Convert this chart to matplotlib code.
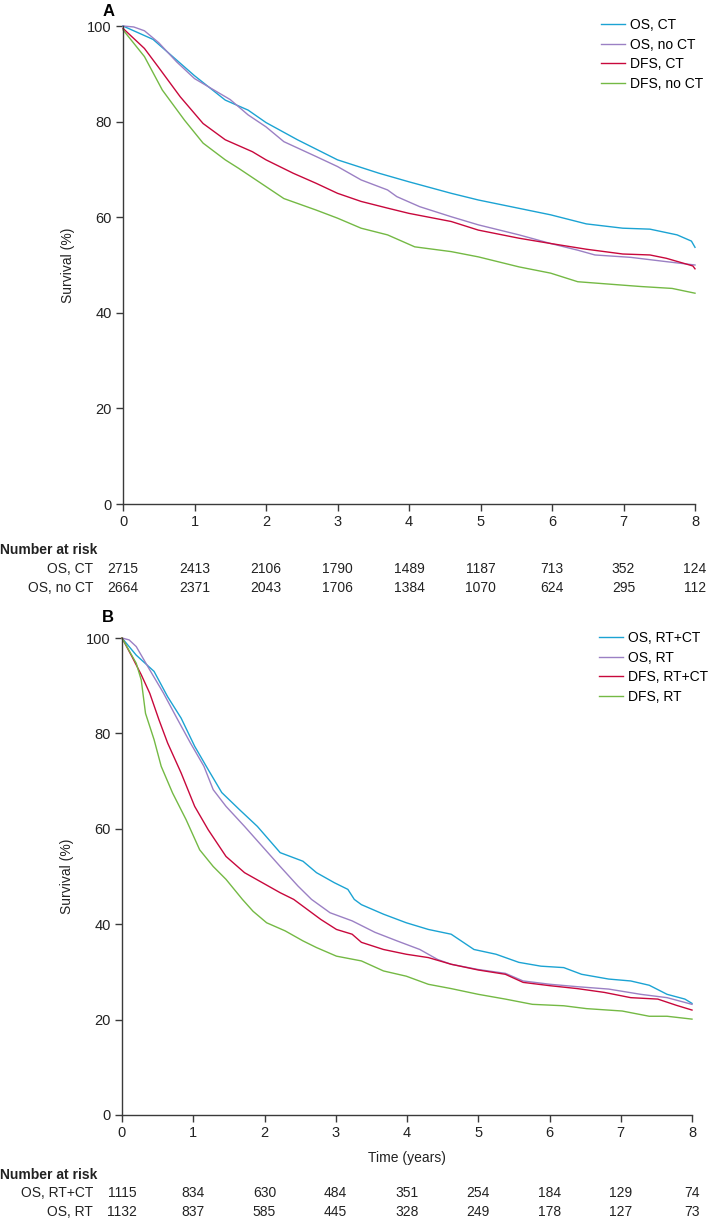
import matplotlib
matplotlib.use('Agg')
import matplotlib.pyplot as plt
import matplotlib.transforms as mtransforms

plt.rcParams['font.family'] = ['Liberation Sans', 'DejaVu Sans']
plt.rcParams['font.size'] = 10

# ---- panel A data ----
tA_os_ct = [0, 0.42, 1.0, 1.43, 1.75, 2.0, 2.44, 3.0, 3.58, 4.0, 4.59, 4.97, 5.98, 6.48, 6.99, 7.37, 7.75, 7.95, 8.0]
sA_os_ct = [100, 97.2, 89.6, 84.5, 82.4, 79.8, 76.2, 72.0, 69.2, 67.4, 65.0, 63.6, 60.5, 58.6, 57.7, 57.5, 56.3, 55.0, 53.7]

tA_os_noct = [0, 0.15, 0.3, 0.5, 0.75, 1.0, 1.5, 1.75, 2.0, 2.25, 2.7, 3.0, 3.33, 3.7, 3.83, 4.15, 4.59, 4.97, 5.54, 5.98, 6.36, 6.6, 7.1, 7.6, 8.0]
sA_os_noct = [100, 99.8, 99.0, 96.5, 92.5, 89.0, 84.6, 81.4, 78.9, 75.8, 72.7, 70.6, 67.8, 65.7, 64.3, 62.2, 60.1, 58.4, 56.3, 54.5, 53.1, 52.1, 51.6, 50.7, 50.0]

tA_dfs_ct = [0, 0.3, 0.49, 0.8, 1.12, 1.43, 1.81, 2.0, 2.38, 2.7, 3.0, 3.33, 3.7, 4.0, 4.59, 4.97, 5.54, 5.98, 6.48, 6.99, 7.37, 7.6, 7.97, 8.0]
sA_dfs_ct = [99.5, 95.3, 91.5, 85.2, 79.6, 76.2, 73.7, 72.0, 69.2, 67.1, 65.0, 63.3, 61.9, 60.8, 59.1, 57.3, 55.6, 54.5, 53.3, 52.3, 52.1, 51.4, 49.8, 49.2]

tA_dfs_noct = [0, 0.3, 0.55, 0.86, 1.12, 1.43, 1.62, 2.0, 2.25, 2.7, 3.0, 3.33, 3.7, 4.08, 4.59, 4.97, 5.54, 5.98, 6.36, 6.8, 7.24, 7.68, 8.0]
sA_dfs_noct = [99.2, 93.6, 86.6, 80.3, 75.5, 72.0, 70.2, 66.4, 63.9, 61.5, 59.8, 57.7, 56.3, 53.8, 52.8, 51.7, 49.6, 48.3, 46.5, 46.0, 45.5, 45.1, 44.1]

# ---- panel B data ----
tB_os_rtct = [0, 0.2, 0.45, 0.64, 0.83, 1.02, 1.21, 1.4, 1.65, 1.9, 2.22, 2.54, 2.73, 2.98, 3.17, 3.26, 3.36, 3.67, 3.99, 4.3, 4.62, 4.94, 5.25, 5.57, 5.88, 6.2, 6.45, 6.83, 7.14, 7.4, 7.65, 7.9, 8.0]
sB_os_rtct = [100, 96.4, 93.0, 87.7, 83.2, 77.3, 72.4, 67.6, 64.0, 60.5, 55.0, 53.2, 50.8, 48.7, 47.3, 45.2, 44.1, 42.1, 40.3, 38.9, 37.9, 34.7, 33.7, 32.0, 31.2, 30.9, 29.5, 28.5, 28.1, 27.2, 25.3, 24.3, 23.4]

tB_os_rt = [0, 0.1, 0.2, 0.39, 0.58, 0.77, 0.96, 1.15, 1.28, 1.46, 1.72, 1.97, 2.22, 2.47, 2.66, 2.92, 3.23, 3.55, 3.86, 4.18, 4.43, 4.62, 5.0, 5.38, 5.63, 6.01, 6.39, 6.83, 7.28, 7.65, 8.0]
sB_os_rt = [100, 99.6, 98.2, 93.3, 88.5, 83.2, 78.0, 73.1, 68.2, 64.7, 60.5, 56.3, 52.1, 48.0, 45.2, 42.4, 40.7, 38.3, 36.5, 34.7, 32.6, 31.6, 30.5, 29.7, 28.1, 27.4, 26.9, 26.4, 25.3, 24.6, 23.2]

tB_dfs_rtct = [0, 0.14, 0.27, 0.39, 0.52, 0.64, 0.83, 1.02, 1.21, 1.46, 1.72, 1.97, 2.22, 2.41, 2.6, 2.79, 3.01, 3.23, 3.36, 3.67, 3.99, 4.3, 4.62, 5.0, 5.38, 5.63, 6.01, 6.39, 6.77, 7.14, 7.52, 7.78, 8.0]
sB_dfs_rtct = [100, 96.1, 92.3, 88.4, 82.8, 78.0, 71.7, 64.7, 59.8, 54.2, 50.8, 48.7, 46.6, 45.2, 43.1, 41.0, 38.9, 37.9, 36.2, 34.7, 33.7, 33.0, 31.6, 30.4, 29.5, 27.8, 27.1, 26.5, 25.7, 24.6, 24.3, 23.0, 22.0]

tB_dfs_rt = [0, 0.2, 0.27, 0.33, 0.45, 0.55, 0.71, 0.9, 1.09, 1.28, 1.46, 1.69, 1.84, 2.03, 2.29, 2.54, 2.73, 3.01, 3.36, 3.67, 3.99, 4.3, 4.62, 5.0, 5.38, 5.76, 6.2, 6.52, 7.02, 7.4, 7.65, 8.0]
sB_dfs_rt = [100, 94.7, 91.2, 84.2, 78.7, 73.1, 67.5, 61.9, 55.6, 52.1, 49.4, 45.2, 42.7, 40.3, 38.6, 36.5, 35.1, 33.3, 32.3, 30.2, 29.1, 27.4, 26.5, 25.3, 24.3, 23.2, 22.9, 22.3, 21.8, 20.7, 20.7, 20.1]

risk_times = [0, 1, 2, 3, 4, 5, 6, 7, 8]
riskA_labels = ['OS, CT', 'OS, no CT']
riskA = [[2715, 2413, 2106, 1790, 1489, 1187, 713, 352, 124],
         [2664, 2371, 2043, 1706, 1384, 1070, 624, 295, 112]]
riskB_labels = ['OS, RT+CT', 'OS, RT']
riskB = [[1115, 834, 630, 484, 351, 254, 184, 129, 74],
         [1132, 837, 585, 445, 328, 249, 178, 127, 73]]

labelsA = ['OS, CT', 'OS, no CT', 'DFS, CT', 'DFS, no CT']
labelsB = ['OS, RT+CT', 'OS, RT', 'DFS, RT+CT', 'DFS, RT']
colors = ['#1ba3d3', '#9b80c4', '#c8083c', '#74b944']

W, H = 708, 1219
FS = 10
fig = plt.figure(figsize=(W / 100, H / 100), dpi=100)

def fy(py):
    # pixel row from top -> figure fraction
    return 1 - py / H

def setupAxes(ax):
    ax.set_xlim(0, 8)
    ax.set_ylim(0, 100)
    ax.set_xticks(risk_times)
    ax.set_yticks([0, 20, 40, 60, 80, 100])
    for s in ['top', 'right']:
        ax.spines[s].set_visible(False)
    for s in ['left', 'bottom']:
        ax.spines[s].set_color('#3a3a3a')
        ax.spines[s].set_linewidth(1.0)
    ax.tick_params(direction='out', length=5, width=1.0, color='#3a3a3a',
                   labelsize=10.5, labelcolor='#222222', pad=3)
    ax.set_ylabel('Survival (%)', fontsize=FS, color='#222222', labelpad=9)

def riskTable(ax, labels, rows, ys, title_y):
    tr = mtransforms.blended_transform_factory(ax.transData, fig.transFigure)
    fig.text(0.0, fy(title_y), 'Number at risk', fontsize=FS, fontweight='bold',
             va='center', ha='left', color='#222222')
    for lab, row, py in zip(labels, rows, ys):
        fig.text(93 / W, fy(py), lab, fontsize=FS, va='center', ha='right', color='#222222')
        for t, n in zip(risk_times, row):
            ax.text(t, fy(py), str(n), transform=tr, fontsize=FS, va='center',
                    ha='center', color='#222222', clip_on=False)

# panel A
axA = fig.add_axes([123 / W, fy(504), (695 - 123) / W, (504 - 26) / H])
setupAxes(axA)
for t, s, c, lab in zip([tA_os_ct, tA_os_noct, tA_dfs_ct, tA_dfs_noct],
                        [sA_os_ct, sA_os_noct, sA_dfs_ct, sA_dfs_noct], colors, labelsA):
    axA.plot(t, s, color=c, lw=1.0, label=lab, clip_on=False)
axA.legend(loc='upper left', bbox_to_anchor=(601 / W, fy(18)), bbox_transform=fig.transFigure,
           frameon=False, fontsize=FS, handlelength=1.7, handletextpad=0.4,
           labelspacing=0.4, borderpad=0, borderaxespad=0)
fig.text(103 / W, fy(12), 'A', fontsize=12, fontweight='bold', va='center', ha='left')
riskTable(axA, riskA_labels, riskA, [569, 588], 550)

# panel B
axB = fig.add_axes([122 / W, fy(1115), (692 - 122) / W, (1115 - 638) / H])
setupAxes(axB)
for t, s, c, lab in zip([tB_os_rtct, tB_os_rt, tB_dfs_rtct, tB_dfs_rt],
                        [sB_os_rtct, sB_os_rt, sB_dfs_rtct, sB_dfs_rt], colors, labelsB):
    axB.plot(t, s, color=c, lw=1.0, label=lab, clip_on=False)
axB.legend(loc='upper left', bbox_to_anchor=(599 / W, fy(631)), bbox_transform=fig.transFigure,
           frameon=False, fontsize=FS, handlelength=1.7, handletextpad=0.4,
           labelspacing=0.4, borderpad=0, borderaxespad=0)
axB.set_xlabel('Time (years)', fontsize=FS, color='#222222', labelpad=8)
fig.text(102 / W, fy(618), 'B', fontsize=12, fontweight='bold', va='center', ha='left')
riskTable(axB, riskB_labels, riskB, [1193, 1212], 1175)

fig.savefig('out.png', dpi=100)
